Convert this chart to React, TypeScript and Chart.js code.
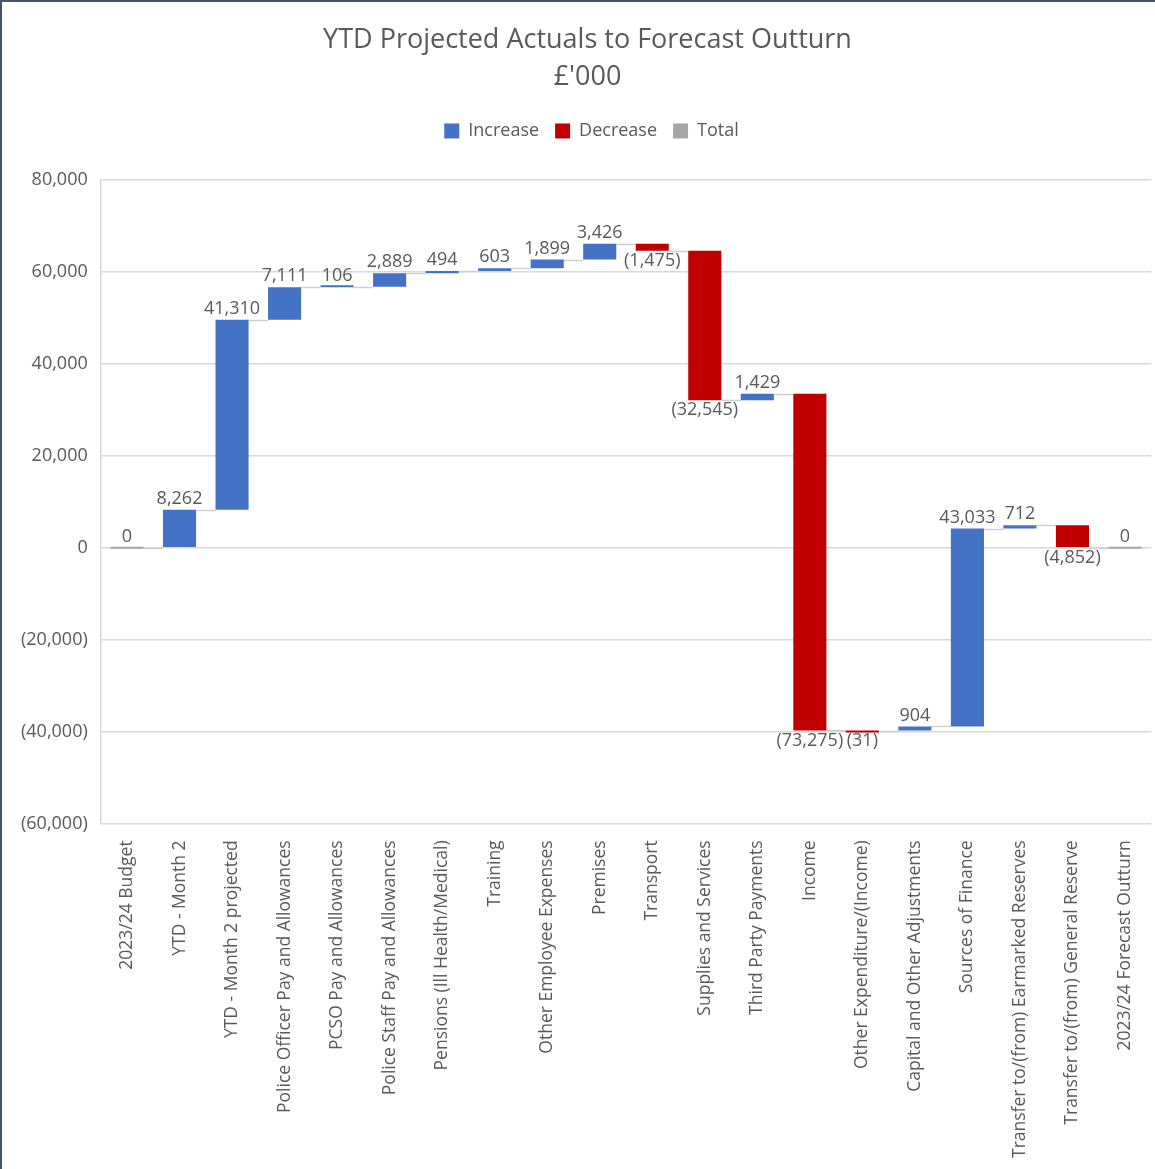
import React, { useEffect, useRef } from "react";
import { Chart, registerables } from "chart.js";

Chart.register(...registerables);

const categories = [
  "2023/24 Budget",
  "YTD - Month 2",
  "YTD - Month 2 projected",
  "Police Officer Pay and Allowances",
  "PCSO Pay and Allowances",
  "Police Staff Pay and Allowances",
  "Pensions (Ill Health/Medical)",
  "Training",
  "Other Employee Expenses",
  "Premises",
  "Transport",
  "Supplies and Services",
  "Third Party Payments",
  "Income",
  "Other Expenditure/(Income)",
  "Capital and Other Adjustments",
  "Sources of Finance",
  "Transfer to/(from) Earmarked Reserves",
  "Transfer to/(from) General Reserve",
  "2023/24 Forecast Outturn",
];

const changes = [
  0, 8262, 41310, 7111, 106, 2889, 494, 603, 1899, 3426, -1475, -32545, 1429,
  -73275, -31, 904, 43033, 712, -4852, 0,
];

const totalFlags = [
  true, false, false, false, false, false, false, false, false, false, false,
  false, false, false, false, false, false, false, false, true,
];

const seriesNames = ["Increase", "Decrease", "Total"];
const seriesColors = ["#4472C4", "#C00000", "#A5A5A5"];

const yMin = -60000;
const yMax = 80000;
const yStep = 20000;

const TEXT = "#595959";
const FONT = "'Open Sans', 'Noto Sans', sans-serif";

function fmt(v: number): string {
  const s = Math.abs(v).toLocaleString("en-GB");
  return v < 0 ? `(${s})` : s;
}

// floating ranges derived from the changes
const starts: number[] = [];
const ends: number[] = [];
{
  let run = 0;
  changes.forEach((c, i) => {
    if (totalFlags[i]) {
      const total = i === 0 ? c : run;
      starts.push(0);
      ends.push(total);
      run = total;
    } else {
      starts.push(run);
      run += c;
      ends.push(run);
    }
  });
}

const incData = changes.map((c, i) =>
  !totalFlags[i] && c >= 0 ? [starts[i], ends[i]] : null
);
const decData = changes.map((c, i) =>
  !totalFlags[i] && c < 0 ? [starts[i], ends[i]] : null
);
const totData = changes.map((c, i) =>
  totalFlags[i] ? [starts[i], ends[i]] : null
);

function barEl(chart: any, i: number) {
  for (let d = 0; d < 3; d++) {
    const ds = chart.data.datasets[d];
    if (ds.data[i] != null) {
      return chart.getDatasetMeta(d).data[i];
    }
  }
  return null;
}

const legendMargin = {
  id: "legendMargin",
  beforeInit(chart: any) {
    const orig = chart.legend.fit;
    chart.legend.fit = function () {
      orig.bind(chart.legend)();
      this.height += 30;
    };
  },
  afterLayout(chart: any) {
    if (chart.titleBlock) {
      chart.titleBlock.left += 6;
      chart.titleBlock.right += 6;
    }
    if (chart.legend) {
      chart.legend.left += 10;
      chart.legend.right += 10;
    }
  },
};

const waterfallPlugin = {
  id: "waterfallExtras",
  beforeDatasetsDraw(chart: any) {
    const ctx = chart.ctx;
    const y = chart.scales.y;
    ctx.save();
    ctx.strokeStyle = "#D0D0D0";
    ctx.lineWidth = 1.5;
    for (let i = 0; i < categories.length - 1; i++) {
      const a = barEl(chart, i);
      const b = barEl(chart, i + 1);
      if (!a || !b) continue;
      const level = ends[i];
      const py = Math.round(y.getPixelForValue(level)) + 0.5;
      ctx.beginPath();
      ctx.moveTo(a.x + a.width / 2, py);
      ctx.lineTo(b.x - b.width / 2, py);
      ctx.stroke();
    }
    ctx.restore();
  },
  afterDatasetsDraw(chart: any) {
    const ctx = chart.ctx;
    const y = chart.scales.y;
    ctx.save();
    ctx.fillStyle = TEXT;
    ctx.font = `18px ${FONT}`;
    ctx.textAlign = "center";
    for (let i = 0; i < categories.length; i++) {
      const el = barEl(chart, i);
      if (!el) continue;
      const c = changes[i];
      const top = y.getPixelForValue(Math.max(starts[i], ends[i]));
      const bottom = y.getPixelForValue(Math.min(starts[i], ends[i]));
      if (c >= 0) {
        ctx.textBaseline = "bottom";
        ctx.fillText(fmt(c), el.x, top - 2);
      } else {
        ctx.textBaseline = "top";
        ctx.fillText(fmt(c), el.x, bottom + 1);
      }
    }
    ctx.restore();
  },
};

export default function App() {
  const ref = useRef<HTMLCanvasElement>(null);
  useEffect(() => {
    if (!ref.current) return;
    const common = {
      grouped: false,
      barPercentage: 1,
      categoryPercentage: 0.63,
      minBarLength: 2,
      borderWidth: 0,
    };
    const chart = new Chart(ref.current, {
      type: "bar",
      data: {
        labels: categories,
        datasets: [
          { label: seriesNames[0], data: incData as any, backgroundColor: seriesColors[0], ...common },
          { label: seriesNames[1], data: decData as any, backgroundColor: seriesColors[1], ...common },
          { label: seriesNames[2], data: totData as any, backgroundColor: seriesColors[2], ...common },
        ],
      },
      options: {
        animation: false,
        responsive: true,
        maintainAspectRatio: false,
        layout: { padding: { left: 6, right: 0, top: 0, bottom: 2 } },
        plugins: {
          tooltip: { enabled: false },
          title: {
            display: true,
            text: ["YTD Projected Actuals to Forecast Outturn", "£'000"],
            color: TEXT,
            font: { family: FONT, size: 27, weight: "normal", lineHeight: 1.37 },
            padding: { top: 20, bottom: 10 },
          },
          legend: {
            display: true,
            position: "top",
            labels: {
              color: TEXT,
              font: { family: FONT, size: 18 },
              boxWidth: 15,
              boxHeight: 15,
              padding: 16,
            },
          },
        },
        scales: {
          x: {
            grid: { display: false },
            border: { display: false },
            ticks: {
              color: TEXT,
              font: { family: FONT, size: 17.5 },
              minRotation: 90,
              maxRotation: 90,
              autoSkip: false,
              padding: 9,
            },
          },
          y: {
            min: yMin,
            max: yMax,
            grid: { color: "#D9D9D9", lineWidth: 1.5, drawTicks: false },
            border: { display: true, color: "#D9D9D9", width: 1.5 },
            ticks: {
              stepSize: yStep,
              color: TEXT,
              font: { family: FONT, size: 18 },
              padding: 13,
              callback: (v: any) => fmt(Number(v)),
            },
          },
        },
      },
      plugins: [waterfallPlugin, legendMargin],
    });
    return () => chart.destroy();
  }, []);
  return (
    <div
      style={{
        position: "absolute",
        left: 0,
        top: 0,
        width: 1155,
        height: 1169,
        boxSizing: "border-box",
        borderTop: "2px solid #44546A",
        borderLeft: "2px solid #44546A",
        background: "#fff",
      }}
    >
      <canvas ref={ref} />
    </div>
  );
}
